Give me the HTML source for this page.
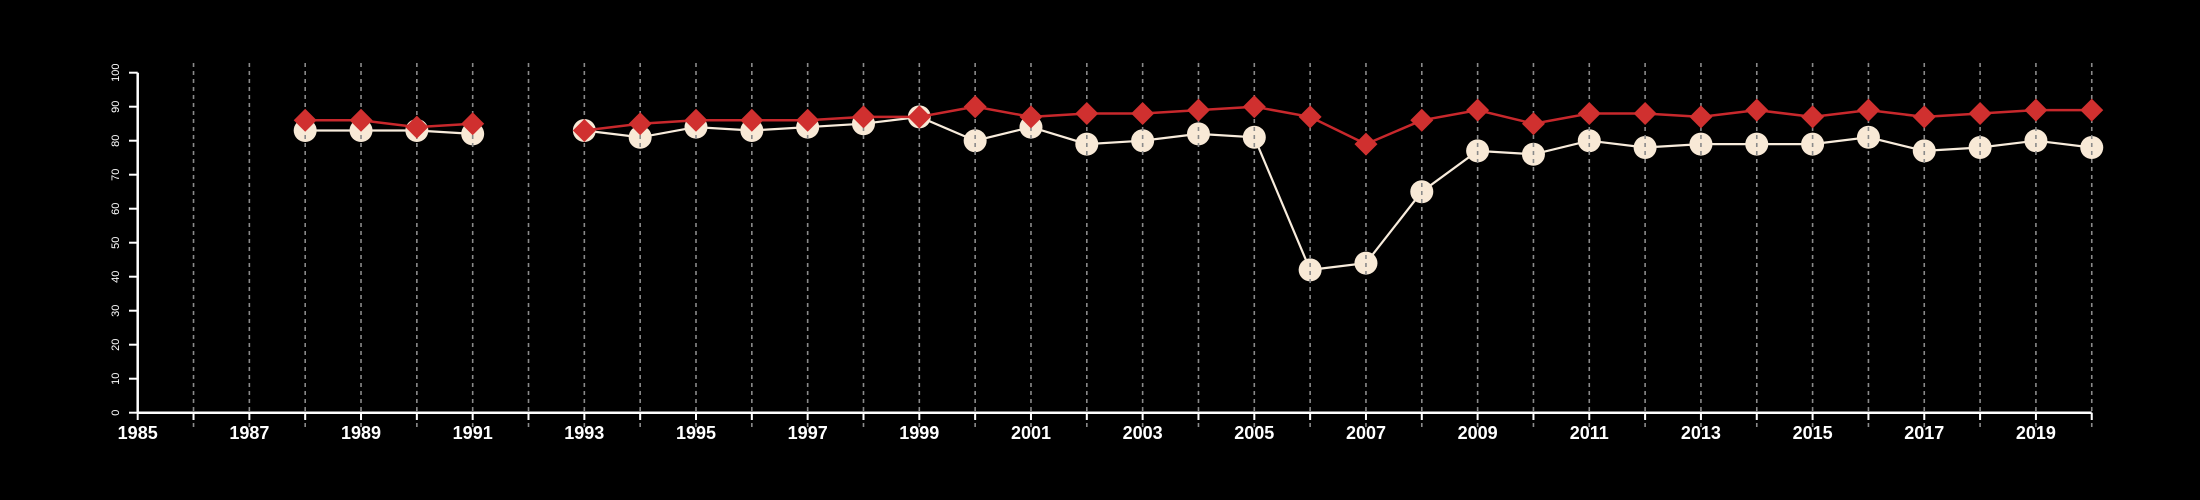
<!DOCTYPE html>
<html><head><meta charset="utf-8"><style>
html,body{margin:0;padding:0;background:#000;width:2200px;height:500px;overflow:hidden}
svg text{font-family:"Liberation Sans",sans-serif;fill:#fff}
</style></head><body>
<svg id="s" width="2200" height="500" xmlns="http://www.w3.org/2000/svg">
<rect width="2200" height="500" fill="#000"/>
<g id="white"></g>
<g id="grid"></g>
<g id="red"></g>
<g id="axes" stroke="#fff" stroke-width="2.5" fill="none">
<line x1="137.7" y1="412.7" x2="2091.7" y2="412.7"/>
<line x1="137.7" y1="72.7" x2="137.7" y2="412.7"/>
</g>
<g id="ticks" stroke="#fff" stroke-width="2"></g>
<g font-size="11" text-anchor="middle">
<text transform="translate(119,412.7) rotate(-90)">0</text>
<text transform="translate(119,378.7) rotate(-90)">10</text>
<text transform="translate(119,344.7) rotate(-90)">20</text>
<text transform="translate(119,310.7) rotate(-90)">30</text>
<text transform="translate(119,276.7) rotate(-90)">40</text>
<text transform="translate(119,242.7) rotate(-90)">50</text>
<text transform="translate(119,208.7) rotate(-90)">60</text>
<text transform="translate(119,174.7) rotate(-90)">70</text>
<text transform="translate(119,140.7) rotate(-90)">80</text>
<text transform="translate(119,106.7) rotate(-90)">90</text>
<text transform="translate(119,72.7) rotate(-90)">100</text>
</g>
<g font-size="18" font-weight="bold" text-anchor="middle">
<text x="137.7" y="439">1985</text>
<text x="249.4" y="439">1987</text>
<text x="361.0" y="439">1989</text>
<text x="472.7" y="439">1991</text>
<text x="584.3" y="439">1993</text>
<text x="696.0" y="439">1995</text>
<text x="807.7" y="439">1997</text>
<text x="919.3" y="439">1999</text>
<text x="1031.0" y="439">2001</text>
<text x="1142.6" y="439">2003</text>
<text x="1254.3" y="439">2005</text>
<text x="1366.0" y="439">2007</text>
<text x="1477.6" y="439">2009</text>
<text x="1589.3" y="439">2011</text>
<text x="1700.9" y="439">2013</text>
<text x="1812.6" y="439">2015</text>
<text x="1924.3" y="439">2017</text>
<text x="2035.9" y="439">2019</text>
</g>
</svg>
<script>
var NS="http://www.w3.org/2000/svg";
function X(y){return 137.7+55.83*(y-1985);}
function Y(v){return 412.7-3.4*v;}
function el(p,t,a){var e=document.createElementNS(NS,t);for(var k in a)e.setAttribute(k,a[k]);p.appendChild(e);return e;}
var red={1988:86,1989:86,1990:84,1991:85,1993:83,1994:85,1995:86,1996:86,1997:86,1998:87,1999:87,2000:90,2001:87,2002:88,2003:88,2004:89,2005:90,2006:87,2007:79,2008:86,2009:89,2010:85,2011:88,2012:88,2013:87,2014:89,2015:87,2016:89,2017:87,2018:88,2019:89,2020:89};
var wh={1988:83,1989:83,1990:83,1991:82,1993:83,1994:81,1995:84,1996:83,1997:84,1998:85,1999:87,2000:80,2001:84,2002:79,2003:80,2004:82,2005:81,2006:42,2007:44,2008:65,2009:77,2010:76,2011:80,2012:78,2013:79,2014:79,2015:79,2016:81,2017:77,2018:78,2019:80,2020:78};
function segs(d){var out=[],cur=[];for(var y=1985;y<=2020;y++){if(d[y]!==undefined)cur.push(X(y)+","+Y(d[y]));else if(cur.length){out.push(cur);cur=[];}}if(cur.length)out.push(cur);return out;}
var gw=document.getElementById("white"),gg=document.getElementById("grid"),gr=document.getElementById("red"),gt=document.getElementById("ticks");
segs(wh).forEach(function(s){el(gw,"polyline",{points:s.join(" "),fill:"none",stroke:"#f8ecdc","stroke-width":2.2});});
for(var y in wh)el(gw,"circle",{cx:X(+y),cy:Y(wh[y]),r:11.5,fill:"#f8e9d6"});
for(var y=1986;y<=2020;y++)el(gg,"line",{x1:X(y),y1:63,x2:X(y),y2:427,stroke:"#8a8a8a","stroke-width":1.6,"stroke-dasharray":"4,4"});
segs(red).forEach(function(s){el(gr,"polyline",{points:s.join(" "),fill:"none",stroke:"#c8282c","stroke-width":2.5});});
for(var y in red){var x=X(+y),yy=Y(red[y]),h=11.5;el(gr,"polygon",{points:(x)+","+(yy-h)+" "+(x+h)+","+yy+" "+x+","+(yy+h)+" "+(x-h)+","+yy,fill:"#d0302f"});}
for(var y=1985;y<=2020;y++)el(gt,"line",{x1:X(y),y1:412.7,x2:X(y),y2:420});
for(var v=0;v<=100;v+=10)el(gt,"line",{x1:129,y1:Y(v),x2:137.7,y2:Y(v)});
</script>
</body></html>
